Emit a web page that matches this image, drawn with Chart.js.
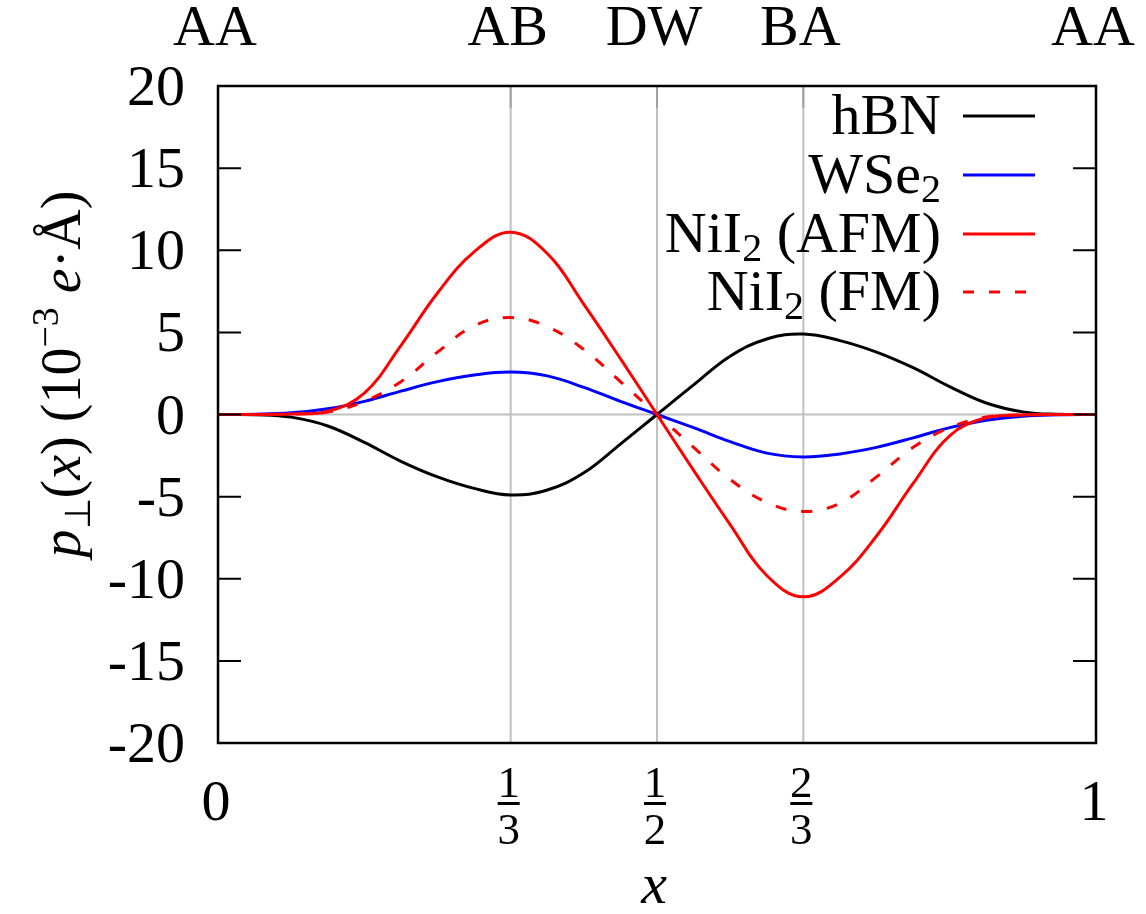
<!DOCTYPE html>
<html lang="en">

<head>
  <meta charset="UTF-8">
  <title>Out-of-plane polarization across the domain wall</title>
  <style>
    body {
      margin: 0;
      background: #ffffff;
    }

    canvas {
      display: block;
    }
  </style>
</head>

<body>
  <canvas id="polChart" width="1146" height="914"></canvas>

  <script src="https://cdn.jsdelivr.net/npm/chart.js"></script>
  <script>
    // positions along the wall (fraction of the period)
    const xPos = [0, 0.0417, 0.0833, 0.125, 0.1667, 0.2083, 0.25, 0.2917, 0.3333, 0.375, 0.4167, 0.4583, 0.5,
      0.5417, 0.5833, 0.625, 0.6667, 0.7083, 0.75, 0.7917, 0.8333, 0.875, 0.9167, 0.9583, 1];

    // p_perp(x) in 10^-3 e*A
    const hbn = [0, -0.01, -0.16, -0.7, -1.7, -2.85, -3.8, -4.5, -4.9, -4.6, -3.55, -1.8, 0,
      1.8, 3.55, 4.6, 4.9, 4.5, 3.8, 2.85, 1.7, 0.7, 0.16, 0.01, 0];
    const wse2 = [0, 0.02, 0.1, 0.35, 0.8, 1.42, 2.0, 2.4, 2.58, 2.35, 1.65, 0.8, 0,
      -0.8, -1.65, -2.35, -2.58, -2.4, -2.0, -1.42, -0.8, -0.35, -0.1, -0.02, 0];
    const niAfm = [0, 0, 0.03, 0.2, 1.3, 4.2, 7.4, 9.9, 11.1, 9.8, 6.7, 3.4, 0,
      -3.4, -6.7, -9.8, -11.1, -9.9, -7.4, -4.2, -1.3, -0.2, -0.03, 0, 0];
    const niFm = [0, 0, 0.03, 0.15, 0.8, 2.0, 3.8, 5.4, 5.9, 5.35, 3.95, 2.0, 0,
      -2.0, -3.95, -5.35, -5.9, -5.4, -3.8, -2.0, -0.8, -0.15, -0.03, 0, 0];

    const yTicks = [-20, -15, -10, -5, 0, 5, 10, 15, 20];
    const xTicks = [0, 1 / 3, 1 / 2, 2 / 3, 1];
    const xTickNum = ['0', '1', '1', '2', '1'];
    const xTickDen = [null, '3', '2', '3', null];
    const topLabels = ['AA', 'AB', 'DW', 'BA', 'AA'];
    const gridX = [1 / 3, 1 / 2, 2 / 3];

    const FONT = '"Liberation Serif", "Times New Roman", serif';

    function toPoints(ys) {
      return ys.map((y, i) => ({ x: xPos[i], y: y }));
    }

    function fnt(size, italic) {
      return (italic ? 'italic ' : '') + size + 'px ' + FONT;
    }

    // text made of pieces (italic, sub/superscripts)
    function richWidth(ctx, parts) {
      let w = 0;
      parts.forEach(p => {
        ctx.font = fnt(p.size || 58, p.it);
        w += ctx.measureText(p.t).width;
      });
      return w;
    }

    function drawRich(ctx, parts, x, y, align) {
      const w = richWidth(ctx, parts);
      let cx = x;
      if (align === 'right') cx = x - w;
      if (align === 'center') cx = x - w / 2;
      ctx.textAlign = 'left';
      ctx.textBaseline = 'alphabetic';
      parts.forEach(p => {
        ctx.font = fnt(p.size || 58, p.it);
        ctx.fillText(p.t, cx, y + (p.dy || 0));
        cx += ctx.measureText(p.t).width;
      });
    }

    const legendItems = [
      { parts: [{ t: 'hBN' }], color: '#000000', dash: [] },
      { parts: [{ t: 'WSe' }, { t: '2', size: 40, dy: 9 }], color: '#0000ff', dash: [] },
      { parts: [{ t: 'NiI' }, { t: '2', size: 40, dy: 9 }, { t: ' (AFM)' }], color: '#ff0000', dash: [] },
      { parts: [{ t: 'NiI' }, { t: '2', size: 40, dy: 9 }, { t: ' (FM)' }], color: '#ff0000', dash: [11, 15] }
    ];

    const frame = {
      id: 'frame',
      beforeDatasetsDraw(chart) {
        const { ctx, chartArea: a, scales } = chart;
        ctx.save();
        ctx.strokeStyle = '#c0c0c0';
        ctx.lineWidth = 2;
        gridX.forEach(v => {
          const px = scales.x.getPixelForValue(v);
          ctx.beginPath();
          ctx.moveTo(px, a.top);
          ctx.lineTo(px, a.bottom);
          ctx.stroke();
        });
        const y0 = scales.y.getPixelForValue(0);
        ctx.beginPath();
        ctx.moveTo(a.left, y0);
        ctx.lineTo(a.right, y0);
        ctx.stroke();
        ctx.strokeStyle = '#a0a0a0';
        gridX.forEach(v => {
          const px = scales.x.getPixelForValue(v);
          ctx.beginPath();
          ctx.moveTo(px, a.top);
          ctx.lineTo(px, a.top + 22);
          ctx.stroke();
        });
        ctx.restore();
      },
      afterDatasetsDraw(chart) {
        const { ctx, chartArea: a, scales } = chart;
        ctx.save();
        ctx.strokeStyle = '#000000';
        ctx.lineWidth = 2.5;
        ctx.strokeRect(a.left, a.top, a.right - a.left, a.bottom - a.top);

        // inward y tics on both sides, labels on the left
        ctx.lineWidth = 2;
        ctx.fillStyle = '#000000';
        yTicks.forEach(v => {
          const py = scales.y.getPixelForValue(v);
          ctx.beginPath();
          ctx.moveTo(a.left, py);
          ctx.lineTo(a.left + 23, py);
          ctx.moveTo(a.right, py);
          ctx.lineTo(a.right - 23, py);
          ctx.stroke();
          ctx.font = fnt(58);
          ctx.textAlign = 'right';
          ctx.textBaseline = 'alphabetic';
          ctx.fillText(String(v), a.left - 33, py + 19);
        });

        // bottom fractions and top stacking labels
        xTicks.forEach((v, i) => {
          const px = scales.x.getPixelForValue(v);
          ctx.textAlign = 'center';
          ctx.textBaseline = 'alphabetic';
          if (xTickDen[i] === null) {
            ctx.font = fnt(58);
            ctx.fillText(xTickNum[i], px - 2, 820);
          } else {
            ctx.font = fnt(45);
            ctx.fillText(xTickNum[i], px - 2, 797);
            ctx.fillText(xTickDen[i], px - 2, 844);
            ctx.fillRect(px - 13, 802, 22, 3);
          }
          ctx.font = fnt(58);
          ctx.fillText(topLabels[i], px - 3, 45);
        });

        // axis titles
        drawRich(ctx, [{ t: 'x', it: true, size: 58 }], 654, 903, 'center');

        ctx.translate(80, 374);
        ctx.rotate(-Math.PI / 2);
        drawRich(ctx, [
          { t: 'p', it: true, size: 56 }, { t: '\u22a5', size: 36, dy: 10 }, { t: '(', size: 56 },
          { t: 'x', it: true, size: 56 }, { t: ')', size: 56 }, { t: ' (10', size: 56 },
          { t: '\u22123', size: 38, dy: -22 }, { t: ' ', size: 56 }, { t: 'e', it: true, size: 56 },
          { t: '\u00b7\u00c5)', size: 56 }
        ], 0, 0, 'center');
        ctx.restore();

        // legend
        ctx.save();
        const rows = [116, 175, 234, 292];
        legendItems.forEach((it, i) => {
          ctx.fillStyle = '#000000';
          drawRich(ctx, it.parts, 941, rows[i] + 18, 'right');
          ctx.strokeStyle = it.color;
          ctx.lineWidth = 3;
          ctx.setLineDash(it.dash);
          ctx.beginPath();
          ctx.moveTo(963, rows[i]);
          ctx.lineTo(1035, rows[i]);
          ctx.stroke();
        });
        ctx.restore();
      }
    };

    const ctx1 = document.getElementById('polChart').getContext('2d');
    new Chart(ctx1, {
      type: 'line',
      data: {
        datasets: [{
          label: 'hBN',
          data: toPoints(hbn),
          borderColor: '#000000',
          order: 4
        }, {
          label: 'WSe2',
          data: toPoints(wse2),
          borderColor: '#0000ff',
          order: 3
        }, {
          label: 'NiI2 (AFM)',
          data: toPoints(niAfm),
          borderColor: '#ff0000',
          order: 2
        }, {
          label: 'NiI2 (FM)',
          data: toPoints(niFm),
          borderColor: '#ff0000',
          borderDash: [11, 15],
          order: 1
        }]
      },
      options: {
        responsive: false,
        animation: false,
        layout: {
          padding: { left: 218, right: 50, top: 86, bottom: 171 }
        },
        elements: {
          point: { radius: 0 },
          line: { borderWidth: 3, tension: 0.4, fill: false }
        },
        scales: {
          x: { type: 'linear', min: 0, max: 1, display: false },
          y: { type: 'linear', min: -20, max: 20, display: false }
        },
        plugins: {
          legend: { display: false },
          tooltip: { enabled: false }
        }
      },
      plugins: [frame]
    });
  </script>
</body>

</html>
